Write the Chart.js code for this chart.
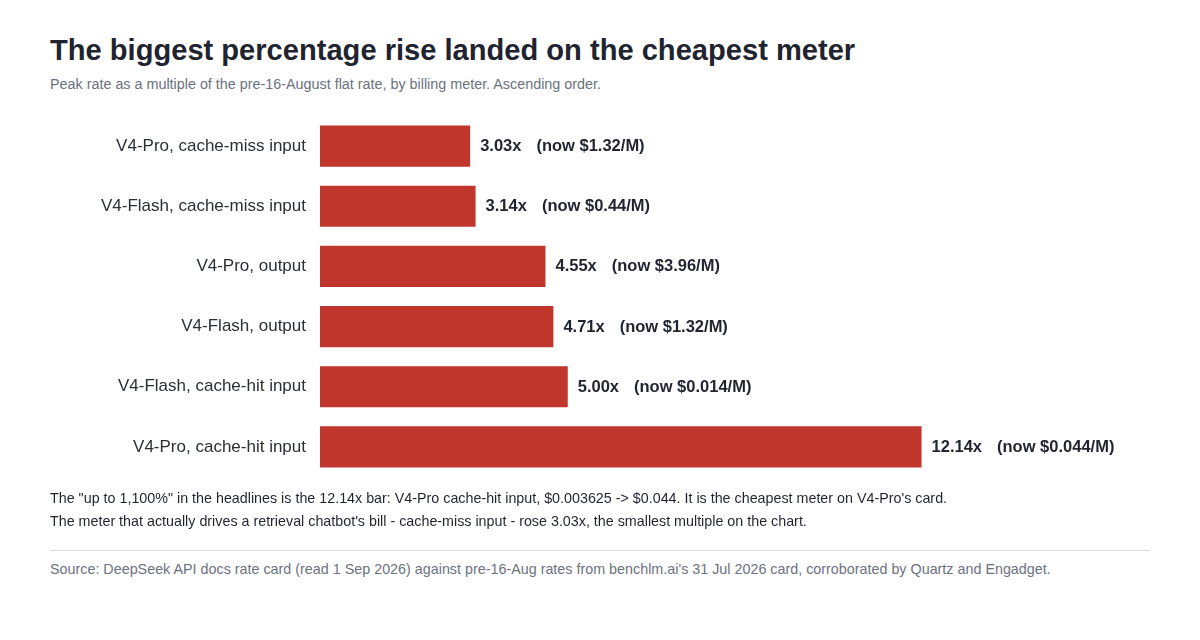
<!DOCTYPE html>
<html>
<head>
<meta charset="utf-8">
<script src="https://cdn.jsdelivr.net/npm/chart.js@4"></script>
<style>
  body { margin: 0; background: #fff; font-family: "Liberation Sans", Arial, sans-serif; }
  #wrap { position: relative; width: 1200px; height: 640px; overflow: hidden; }
  .t { position: absolute; left: 50px; white-space: nowrap; }
  #title { top: 34px; font-size: 29.1px; font-weight: bold; color: #1f2430; }
  #sub { top: 76px; font-size: 14.35px; color: #6b7280; }
  #n1 { top: 490px; font-size: 14.3px; color: #1f2430; }
  #n2 { top: 513px; font-size: 14.3px; color: #1f2430; }
  #rule { position: absolute; left: 50px; top: 550px; width: 1100px; height: 1px; background: #dcdde1; }
  #src { top: 561px; font-size: 14.33px; color: #6b7280; }
  #box { position: absolute; left: 0; top: 100px; width: 1200px; height: 391px; }
</style>
</head>
<body>
<div id="wrap">
  <div class="t" id="title">The biggest percentage rise landed on the cheapest meter</div>
  <div class="t" id="sub">Peak rate as a multiple of the pre-16-August flat rate, by billing meter. Ascending order.</div>
  <div id="box"><canvas id="meterChart"></canvas></div>
  <div class="t" id="n1">The "up to 1,100%" in the headlines is the 12.14x bar: V4-Pro cache-hit input, $0.003625 -&gt; $0.044. It is the cheapest meter on V4-Pro's card.</div>
  <div class="t" id="n2">The meter that actually drives a retrieval chatbot's bill - cache-miss input - rose 3.03x, the smallest multiple on the chart.</div>
  <div id="rule"></div>
  <div class="t" id="src">Source: DeepSeek API docs rate card (read 1 Sep 2026) against pre-16-Aug rates from benchlm.ai's 31 Jul 2026 card, corroborated by Quartz and Engadget.</div>
</div>
<script>
const meters = [
    'V4-Pro, cache-miss input',
    'V4-Flash, cache-miss input',
    'V4-Pro, output',
    'V4-Flash, output',
    'V4-Flash, cache-hit input',
    'V4-Pro, cache-hit input'
];
const multiples = [3.03, 3.14, 4.55, 4.71, 5.00, 12.14];
const nowPrices = ['$1.32/M', '$0.44/M', '$3.96/M', '$1.32/M', '$0.014/M', '$0.044/M'];

document.addEventListener('DOMContentLoaded', function() {
    const ctx = document.getElementById('meterChart').getContext('2d');

    // value labels at the end of each bar
    const barLabels = {
        id: 'barLabels',
        afterDatasetsDraw(chart) {
            const c = chart.ctx;
            const meta = chart.getDatasetMeta(0);
            c.save();
            c.font = 'bold 16.5px "Liberation Sans", Arial, sans-serif';
            c.fillStyle = '#1f2430';
            c.textBaseline = 'middle';
            c.textAlign = 'left';
            meta.data.forEach(function(bar, i) {
                const mult = multiples[i].toFixed(2) + 'x';
                const x = bar.x + 10;
                c.fillText(mult, x, bar.y + 0.5);
                c.fillText('(now ' + nowPrices[i] + ')', x + c.measureText(mult).width + 15, bar.y + 0.5);
            });
            c.restore();
        }
    };

    new Chart(ctx, {
        type: 'bar',
        data: {
            labels: meters,
            datasets: [{
                data: multiples,
                backgroundColor: '#c0362c',
                borderWidth: 0,
                barPercentage: 1,
                categoryPercentage: 0.685
            }]
        },
        options: {
            indexAxis: 'y',
            responsive: true,
            maintainAspectRatio: false,
            animation: false,
            layout: {
                padding: { top: 16, bottom: 14, left: 0, right: 50 }
            },
            plugins: {
                legend: { display: false },
                tooltip: { enabled: false }
            },
            scales: {
                x: {
                    display: false,
                    min: 0,
                    max: 16.75
                },
                y: {
                    afterFit: function(scale) {
                        scale.width = 320;
                        scale.paddingTop = 0;
                        scale.paddingBottom = 0;
                    },
                    grid: { display: false, drawTicks: false },
                    border: { display: false },
                    ticks: {
                        padding: 14,
                        color: '#2b2f36',
                        font: { family: '"Liberation Sans", Arial, sans-serif', size: 17 }
                    }
                }
            }
        },
        plugins: [barLabels]
    });
});
</script>
</body>
</html>
